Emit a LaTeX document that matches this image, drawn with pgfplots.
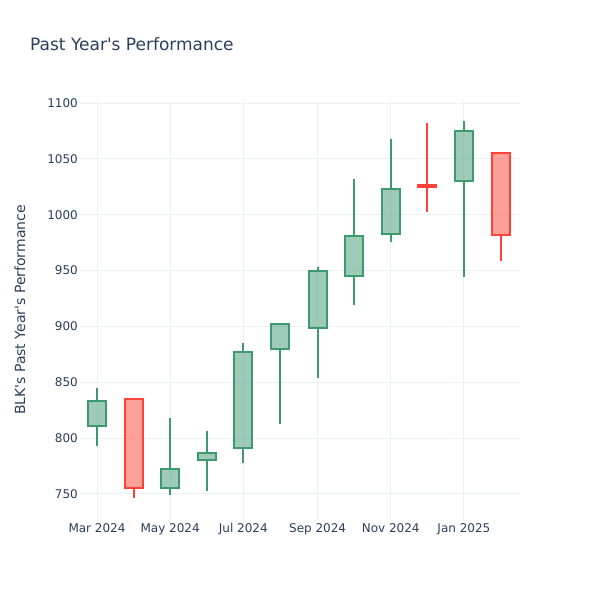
\documentclass[border=0pt]{standalone}
\usepackage{pgfplots}
\pgfplotsset{compat=1.18}
\usepgfplotslibrary{statistics}
\usepackage{fontspec}
\setmainfont{DejaVu Sans}[Ligatures=TeXOff]
\definecolor{inc}{HTML}{3D9970}
\definecolor{dec}{HTML}{FF4136}
\definecolor{txt}{HTML}{2A3F5F}
\definecolor{grd}{HTML}{EBF0F8}
\pgfplotsset{
  candle/.style n args={5}{boxplot prepared={draw position=#1, lower whisker=#2,
     lower quartile=#3, median=#3, upper quartile=#4, upper whisker=#5}},
  candleinc/.style={draw=inc, fill=inc, fill opacity=0.5, line width=2pt, mark=none},
  candledec/.style={draw=dec, fill=dec, fill opacity=0.5, line width=2pt, mark=none},
}
\begin{document}
\begin{tikzpicture}
\path[fill=white] (0,0) rectangle (600pt,600pt);
\node[anchor=base west, font=\fontsize{17}{20}\selectfont, text=txt, inner sep=0pt] at (30pt,549pt) {Past Year's Performance};
\begin{axis}[
  at={(80pt,80pt)}, anchor=south west,
  scale only axis, width=440pt, height=420pt,
  xmin=-14.2, xmax=352.8, ymin=726.7, ymax=1102.7,
  xtick={0,61,122,184,245,306},
  xticklabels={Mar 2024, May 2024, Jul 2024, Sep 2024, Nov 2024, Jan 2025},
  ytick={750,800,...,1100},
  grid=major, major grid style={draw=grd, line width=1pt},
  axis line style={draw=none}, tick style={draw=none},
  ticklabel style={font=\fontsize{12}{14}\selectfont, text=txt},
  yticklabel style={inner sep=0pt, xshift=-2pt},
  xticklabel style={inner sep=0pt, yshift=-3pt},
  /pgf/number format/assume math mode=true,
  /pgf/number format/1000 sep={},
  ylabel={BLK's Past Year's Performance},
  ylabel style={at={(axis description cs:-0.13636,0.5)}, anchor=center, font=\fontsize{14}{16}\selectfont, text=txt},
  boxplot/draw direction=y,
  boxplot/box extend=15, boxplot/whisker extend=0,
]
% candle={date}{low}{min(open,close)}{max(open,close)}{high}
\addplot[candleinc, candle={0}{793}{811}{833}{845}] coordinates {};      % Mar 2024
\addplot[candledec, candle={31}{746}{755}{835}{835.5}] coordinates {};   % Apr 2024
\addplot[candleinc, candle={61}{749}{755}{772}{818}] coordinates {};     % May 2024
\addplot[candleinc, candle={92}{753}{780}{787}{806}] coordinates {};     % Jun 2024
\addplot[candleinc, candle={122}{778}{791}{877}{885}] coordinates {};    % Jul 2024
\addplot[candleinc, candle={153}{813}{880}{902}{903}] coordinates {};    % Aug 2024
\addplot[candleinc, candle={184}{854}{899}{950}{953}] coordinates {};    % Sep 2024
\addplot[candleinc, candle={214}{919}{945}{981}{1032}] coordinates {};   % Oct 2024
\addplot[candleinc, candle={245}{976}{983}{1023}{1068}] coordinates {};  % Nov 2024
\addplot[candledec, candle={275}{1002}{1025}{1027}{1082}] coordinates {};% Dec 2024
\addplot[candleinc, candle={306}{944}{1030}{1075}{1084}] coordinates {}; % Jan 2025
\addplot[candledec, candle={337}{959}{982}{1055}{1056}] coordinates {};  % Feb 2025
\end{axis}
\end{tikzpicture}
\end{document}
